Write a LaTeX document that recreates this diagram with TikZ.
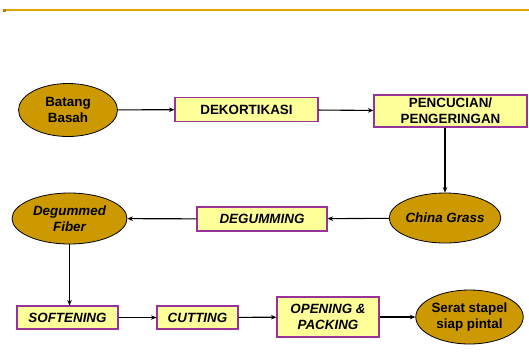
\documentclass[tikz,border=0pt]{standalone}
\usepackage{fontspec}
\setmainfont{Liberation Sans}
\usetikzlibrary{shapes.geometric,arrows.meta}
\definecolor{gold}{HTML}{CC9900}
\definecolor{boxfill}{HTML}{FFFF99}
\definecolor{boxline}{HTML}{993399}
\definecolor{topline}{HTML}{E0A400}
\tikzset{
  oval/.style={ellipse,draw=black,line width=0.8pt,fill=gold,inner sep=0pt,
    font=\fontsize{13.4}{16}\selectfont\bfseries,align=center},
  stepbox/.style={rectangle,draw=boxline,line width=1.1pt,fill=boxfill,inner sep=0pt,
    font=\fontsize{13.4}{16}\selectfont\bfseries,align=center},
  flow/.style={draw=black,line width=1.1pt,-{Stealth[length=5.5pt,width=4.5pt]}}
}
\begin{document}
\begin{tikzpicture}[x=1pt,y=-1pt]
\useasboundingbox (0,0) rectangle (529,360);
\draw[topline,line width=2pt] (4,10) -- (529,10);
\fill[topline!80!black] (3,8.5) rectangle (6,11.5);
% row 1
\node[oval,minimum width=99pt,minimum height=53pt] (bb) at (68,110) {Batang\\Basah};
\node[stepbox,minimum width=143pt,minimum height=24pt] (dek) at (246.5,109.5) {DEKORTIKASI};
\node[stepbox,minimum width=153pt,minimum height=32pt] (pen) at (450.5,111) {PENCUCIAN/\\PENGERINGAN};
% row 2
\node[oval,minimum width=97pt,minimum height=50pt] (cg) at (445,218) {\itshape China Grass};
\node[stepbox,minimum width=130pt,minimum height=24pt] (deg) at (262,219) {\itshape DEGUMMING};
\node[oval,minimum width=115pt,minimum height=51pt] (df) at (69.5,218.5) {\itshape Degummed\\\itshape Fiber};
% row 3
\node[stepbox,minimum width=101pt,minimum height=23pt] (sof) at (67.5,317.5) {\itshape SOFTENING};
\node[stepbox,minimum width=81pt,minimum height=23pt] (cut) at (197.5,317.5) {\itshape CUTTING};
\node[stepbox,minimum width=102pt,minimum height=40pt] (opk) at (328,317) {\itshape OPENING \&\\\itshape PACKING};
\node[oval,minimum width=105pt,minimum height=54pt] (ser) at (469.5,317) {Serat stapel\\siap pintal};
% connectors
\draw[flow] (bb) -- (dek);
\draw[flow] (dek) -- (pen);
\draw[flow] (pen.south -| cg.north) -- (cg.north);
\draw[flow] (cg) -- (deg);
\draw[flow] (deg) -- (df);
\draw[flow] (df.south) -- (sof.north -| df.south);
\draw[flow] (sof) -- (cut);
\draw[flow] (cut) -- (opk);
\draw[flow] (opk) -- (ser);
\end{tikzpicture}
\end{document}
